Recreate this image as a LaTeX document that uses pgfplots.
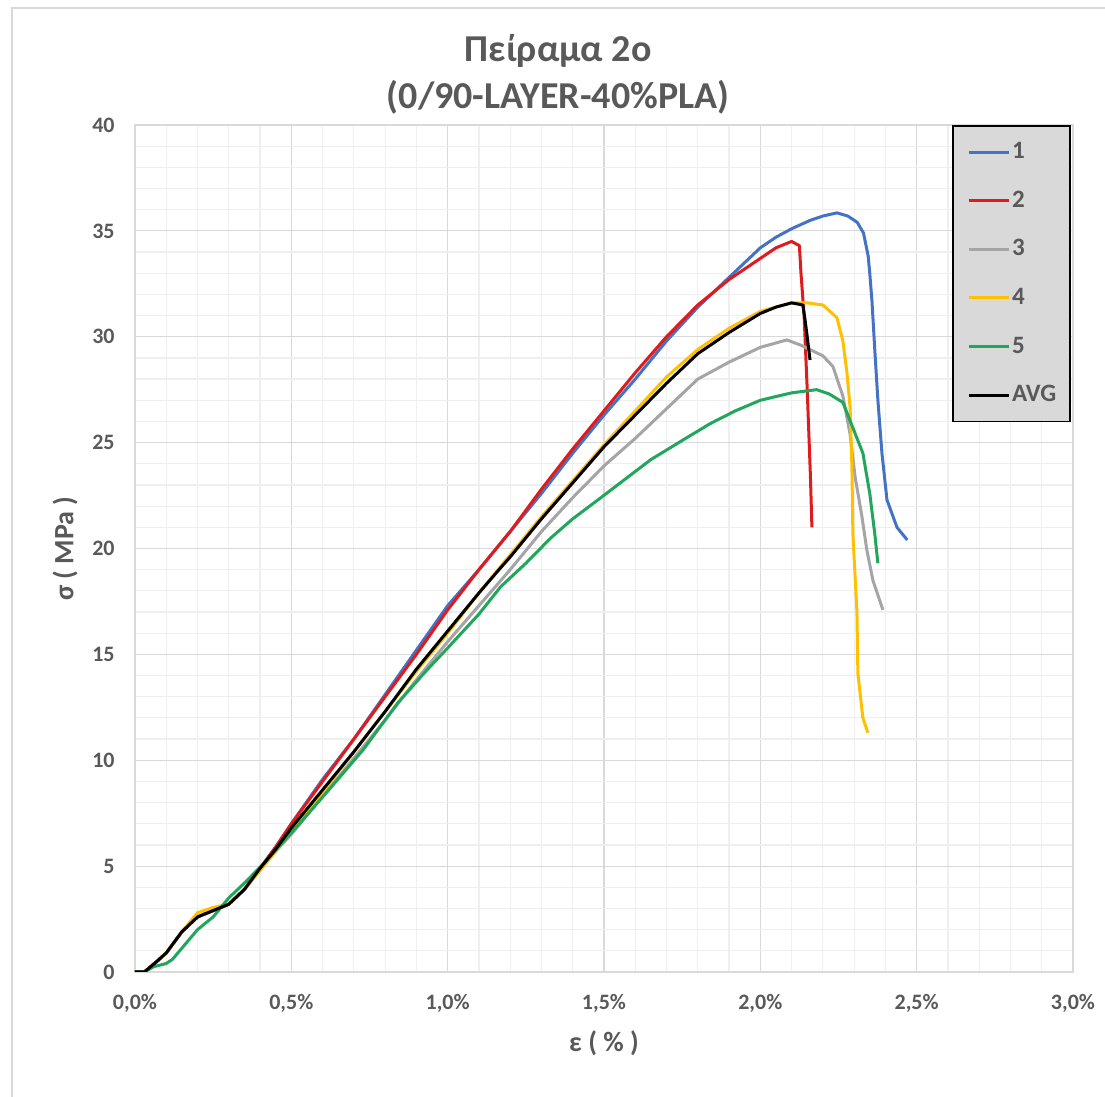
\documentclass[border=0pt]{standalone}
\usepackage{fontspec}
\setmainfont{Carlito}
\usepackage{pgfplots}
\pgfplotsset{compat=1.18}
\definecolor{cblue}{HTML}{4472C4}
\definecolor{cred}{HTML}{E01B1E}
\definecolor{cgray}{HTML}{A5A5A5}
\definecolor{cyellow}{HTML}{FFC000}
\definecolor{cgreen}{HTML}{21A65B}
\definecolor{textgray}{HTML}{595959}
\definecolor{gridmaj}{HTML}{D9D9D9}
\definecolor{gridmin}{HTML}{EFEFEF}
\definecolor{legfill}{HTML}{D9D9D9}
\begin{document}
\begin{tikzpicture}
\begin{axis}[
  at={(0,0)}, anchor=south west,
  scale only axis, width=469pt, height=423.5pt,
  xmin=0, xmax=3, ymin=0, ymax=40,
  xtick={0,0.5,1,1.5,2,2.5,3}, ytick={0,5,10,15,20,25,30,35,40},
  xticklabels={{0,0\%},{0,5\%},{1,0\%},{1,5\%},{2,0\%},{2,5\%},{3,0\%}},
  yticklabels={0,5,10,15,20,25,30,35,40},
  minor x tick num=4, minor y tick num=4,
  grid=both,
  major grid style={draw=gridmaj, line width=0.6pt},
  minor grid style={draw=gridmin, line width=0.6pt},
  major tick length=0pt, minor tick length=0pt,
  axis line style={draw=gridmaj, line width=0.6pt},
  ticklabel style={font=\bfseries\fontsize{11}{13}\selectfont, text=textgray, inner sep=0pt},
  x tick label style={anchor=center, yshift=-15.5pt},
  y tick label style={anchor=east, xshift=-10pt},
  title={Πείραμα 2ο\\(0/90-LAYER-40\%PLA)},
  title style={align=center, font=\bfseries\fontsize{19}{23.5}\selectfont, text=textgray,
    at={(axis description cs:0.451,1)}, anchor=center, yshift=19.5pt},
  xlabel={ε ( \% )},
  ylabel={σ ( MPa )},
  every axis x label/.style={at={(axis description cs:0.5,0)}, anchor=center, yshift=-35.5pt,
    font=\bfseries\fontsize{14}{16}\selectfont, text=textgray},
  every axis y label/.style={at={(axis description cs:0,0.5)}, anchor=center, xshift=-35pt, rotate=90,
    font=\bfseries\fontsize{14}{16}\selectfont, text=textgray},
  legend style={at={(1,1)}, anchor=north east, xshift=-1pt, fill=legfill, draw=black, line width=0.8pt,
    inner xsep=7pt, inner ysep=1pt, row sep=0pt, column sep=1pt,
    font=\bfseries\fontsize{12.5}{14}\selectfont, text=textgray,
    nodes={inner sep=0pt, minimum height=24.3pt}},
  legend cell align=left,
  legend image code/.code={\draw[#1] (0pt,0pt) -- (20pt,0pt);},
  every axis plot/.append style={line width=1.5pt, line join=round, no markers},
]
% 1
\addplot[cblue] coordinates {
(0,0) (0.03,0) (0.07,0.5) (0.1,0.9) (0.15,1.9) (0.2,2.6) (0.25,2.9) (0.3,3.2) (0.35,3.9) (0.4,4.9) (0.45,5.9)
(0.5,7.0) (0.6,9.1) (0.7,11.0) (0.8,13.1) (0.9,15.2) (1.0,17.3) (1.1,19.0) (1.2,20.8) (1.3,22.6) (1.4,24.5)
(1.5,26.3) (1.6,28.0) (1.7,29.8) (1.8,31.4) (1.9,32.8) (1.95,33.5) (2.0,34.2) (2.05,34.7) (2.1,35.1) (2.16,35.5)
(2.2,35.7) (2.245,35.85) (2.28,35.7) (2.31,35.4) (2.33,34.9) (2.345,33.8) (2.35,33.0) (2.357,31.7) (2.366,29.4)
(2.376,27.0) (2.389,24.5) (2.405,22.3) (2.437,21.0) (2.47,20.4)};
\addlegendentry{1}
% 2
\addplot[cred] coordinates {
(0,0) (0.03,0) (0.07,0.5) (0.1,0.9) (0.15,1.9) (0.2,2.6) (0.25,2.9) (0.3,3.2) (0.35,3.9) (0.4,4.9) (0.45,5.9)
(0.5,7.0) (0.6,9.0) (0.7,11.0) (0.8,13.0) (0.9,15.0) (1.0,17.1) (1.1,19.0) (1.2,20.8) (1.3,22.8) (1.4,24.7)
(1.5,26.5) (1.6,28.3) (1.7,30.0) (1.8,31.5) (1.9,32.7) (2.0,33.7) (2.05,34.2) (2.1,34.5) (2.125,34.3)
(2.13,33.0) (2.14,31.0) (2.15,27.5) (2.16,23.5) (2.165,21.0)};
\addlegendentry{2}
% 3
\addplot[cgray] coordinates {
(0,0) (0.03,0) (0.07,0.5) (0.1,0.9) (0.15,1.9) (0.2,2.6) (0.25,2.9) (0.3,3.2) (0.35,3.9) (0.4,4.8) (0.45,5.7)
(0.5,6.5) (0.6,8.3) (0.7,10.1) (0.8,11.9) (0.9,13.8) (1.0,15.6) (1.1,17.3) (1.2,19.0) (1.3,20.8) (1.4,22.4)
(1.5,23.9) (1.6,25.2) (1.7,26.6) (1.8,28.0) (1.9,28.8) (2.0,29.5) (2.085,29.85) (2.13,29.6) (2.2,29.1)
(2.232,28.6) (2.264,27.2) (2.287,25.4) (2.303,23.4) (2.325,21.5) (2.341,19.9) (2.36,18.5) (2.392,17.1)};
\addlegendentry{3}
% 4
\addplot[cyellow] coordinates {
(0,0) (0.03,0) (0.07,0.5) (0.1,0.9) (0.15,1.9) (0.2,2.8) (0.25,3.05) (0.3,3.2) (0.35,3.9) (0.4,4.8) (0.45,5.7)
(0.5,6.6) (0.6,8.5) (0.7,10.4) (0.8,12.3) (0.9,14.2) (1.0,16.0) (1.1,17.9) (1.2,19.7) (1.3,21.5) (1.4,23.2)
(1.5,24.9) (1.6,26.5) (1.7,28.1) (1.8,29.4) (1.9,30.4) (2.0,31.2) (2.1,31.6) (2.15,31.6) (2.2,31.5)
(2.245,30.9) (2.264,29.8) (2.277,28.3) (2.287,26.7) (2.293,23.8) (2.296,20.7) (2.309,17.0) (2.312,14.1)
(2.328,12.0) (2.344,11.3)};
\addlegendentry{4}
% 5
\addplot[cgreen] coordinates {
(0,0) (0.03,0) (0.06,0.25) (0.1,0.4) (0.12,0.6) (0.16,1.3) (0.2,2.0) (0.25,2.6) (0.3,3.5) (0.35,4.2)
(0.41,5.1) (0.52,6.9) (0.62,8.6) (0.73,10.5) (0.84,12.7) (0.93,14.2) (1.0,15.3) (1.1,16.9) (1.17,18.2)
(1.25,19.3) (1.33,20.5) (1.4,21.4) (1.49,22.4) (1.57,23.3) (1.65,24.2) (1.75,25.1) (1.84,25.9) (1.92,26.5)
(2.0,27.0) (2.1,27.35) (2.18,27.5) (2.22,27.3) (2.264,26.9) (2.296,25.7) (2.328,24.5) (2.35,22.6)
(2.366,20.7) (2.376,19.3)};
\addlegendentry{5}
% AVG
\addplot[black] coordinates {
(0,0) (0.03,0) (0.07,0.5) (0.1,0.9) (0.15,1.9) (0.2,2.6) (0.25,2.9) (0.3,3.2) (0.35,3.9) (0.4,4.9) (0.45,5.8)
(0.5,6.8) (0.6,8.6) (0.7,10.4) (0.8,12.3) (0.85,13.3) (0.9,14.3) (1.0,16.1) (1.1,17.9) (1.17,19.1) (1.2,19.6)
(1.3,21.4) (1.4,23.1) (1.5,24.8) (1.6,26.3) (1.7,27.8) (1.8,29.2) (1.9,30.2) (2.0,31.1) (2.05,31.4)
(2.1,31.6) (2.136,31.5) (2.143,30.8) (2.15,30.0) (2.159,28.9)};
\addlegendentry{AVG}
\end{axis}
\draw[gridmaj, line width=0.6pt] (-61.5pt,-62.5pt) -- (-61.5pt,482pt) -- (485pt,482pt);
\pgfresetboundingbox
\path[use as bounding box] (-67.5pt,-62.5pt) rectangle (485pt,486pt);
\end{tikzpicture}
\end{document}
